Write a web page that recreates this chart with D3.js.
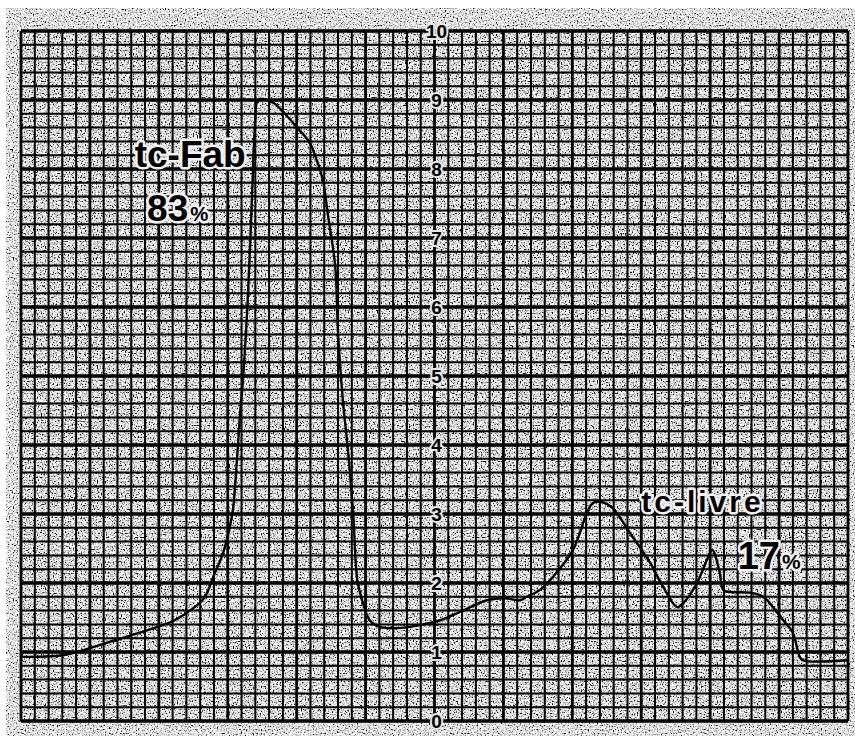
<!DOCTYPE html>
<html>
<head>
<meta charset="utf-8">
<script src="https://cdn.jsdelivr.net/npm/d3@7"></script>
<style>
  body { margin: 0; background: #fff; }
  svg { display: block; }
</style>
</head>
<body>
<div id="chart"></div>
<script>
// trace: x in major divisions, y in chart units
const traceX = [0, 0.64, 1.36, 1.94, 2.23, 2.52, 2.67, 2.79, 2.93, 3.03, 3.08, 3.13, 3.18, 3.22, 3.29, 3.35, 3.40, 3.44,
  3.66, 3.80, 4.00, 4.19, 4.29, 4.38, 4.45, 4.56, 4.60, 4.67, 4.74, 4.82, 4.88, 4.95, 5.06, 5.21, 5.50, 5.79, 6.08, 6.37,
  6.76, 7.02, 7.24, 7.34, 7.53, 7.72, 8.01, 8.21, 8.30, 8.44, 8.58, 8.84, 9.13, 9.32, 9.52, 9.61, 9.81, 9.95, 10.03,
  10.07, 10.14, 10.19, 10.29, 10.58, 10.77, 10.91, 11.06, 11.20, 11.30, 11.35, 12.0]
const traceY = [0.93, 0.96, 1.17, 1.35, 1.46, 1.65, 1.80, 2.09, 2.43, 2.81, 3.10, 3.74, 4.46, 4.94, 6.10, 7.55, 8.71, 9.00,
  8.96, 8.83, 8.61, 8.38, 8.13, 7.84, 7.36, 6.58, 5.62, 4.65, 3.97, 3.01, 2.04, 1.75, 1.46, 1.36, 1.35, 1.39, 1.46, 1.58,
  1.75, 1.78, 1.75, 1.80, 1.90, 2.09, 2.48, 3.01, 3.16, 3.17, 3.09, 2.72, 2.29, 1.94, 1.65, 1.71, 2.00, 2.33, 2.48,
  2.41, 2.14, 1.90, 1.87, 1.86, 1.80, 1.65, 1.46, 1.28, 0.93, 0.88, 0.88]

const yTicks = [0, 1, 2, 3, 4, 5, 6, 7, 8, 9, 10]

// peak annotations, anchored in chart units
const noteText = ['tc-Fab', '83', 'tc-livre', '17']
const noteX = [1.65, 1.83, 9.0, 10.4]
const noteY = [8.03, 7.25, 3.03, 2.2]

const width = 855, height = 736

const x = d3.scaleLinear().domain([0, 12]).range([21, 848])
const y = d3.scaleLinear().domain([0, 10]).range([721, 31])

const svg = d3.select('#chart')
  .append('svg')
  .attr('width', width)
  .attr('height', height)

// scanned paper texture
const defs = svg.append('defs')
const speckle = (id, slope, intercept) => {
  const f = defs.append('filter').attr('id', id)
    .attr('x', 0).attr('y', 0).attr('width', '100%').attr('height', '100%')
  f.append('feTurbulence').attr('type', 'fractalNoise')
    .attr('baseFrequency', 0.75).attr('numOctaves', 1).attr('seed', 4)
  f.append('feColorMatrix').attr('type', 'saturate').attr('values', 0)
  const t = f.append('feComponentTransfer')
  ;['feFuncR', 'feFuncG', 'feFuncB'].forEach(fn =>
    t.append(fn).attr('type', 'linear').attr('slope', slope).attr('intercept', intercept))
  t.append('feFuncA').attr('type', 'table').attr('tableValues', '1 1')
}
speckle('border', 5, -1.7)
speckle('paper', 5.5, -2.0)

svg.append('rect')
  .attr('x', 6).attr('y', 8)
  .attr('width', width - 6).attr('height', height - 8)
  .attr('filter', 'url(#border)')

svg.append('rect')
  .attr('x', x(0)).attr('y', y(10))
  .attr('width', x(12) - x(0)).attr('height', y(0) - y(10))
  .attr('filter', 'url(#paper)')

// grid: 5 minor lines per major division
const minor = d3.range(0, 61).map(i => i / 5)
const minorY = d3.range(0, 51).map(i => i / 5)
const grid = svg.append('g').attr('stroke', '#000')

grid.selectAll('.vx')
  .data(minor)
  .enter()
  .append('line')
  .attr('x1', d => x(d)).attr('x2', d => x(d))
  .attr('y1', y(10)).attr('y2', y(0))
  .attr('stroke-width', (d, i) => i % 5 === 0 ? 2.8 : 2)

grid.selectAll('.hy')
  .data(minorY)
  .enter()
  .append('line')
  .attr('y1', d => y(d)).attr('y2', d => y(d))
  .attr('x1', x(0)).attr('x2', x(12))
  .attr('stroke-width', (d, i) => i % 5 === 0 ? 3.6 : 2)

// trace
const line = d3.line()
  .x(d => x(d[0]))
  .y(d => y(d[1]))
  .curve(d3.curveCatmullRom.alpha(0.5))

svg.append('path')
  .datum(d3.zip(traceX, traceY))
  .attr('d', line)
  .attr('fill', 'none')
  .attr('stroke', '#000')
  .attr('stroke-width', 2.4)
  .attr('stroke-linejoin', 'round')

// scale numbers printed down the middle of the paper
const axis = svg.append('g')
  .attr('transform', `translate(${x(6) + 2},0)`)
  .call(d3.axisLeft(y).tickValues(yTicks).tickSize(0).tickFormat(d3.format('d')))

axis.select('.domain').remove()
axis.selectAll('text')
  .attr('x', 0)
  .attr('dy', '0.35em')
  .attr('text-anchor', 'middle')
  .style('font-family', '"Liberation Sans", Arial, sans-serif')
  .style('font-weight', 'bold')
  .style('font-size', '19px')
  .style('fill', '#000')
  .style('stroke', '#e6e6e6')
  .style('stroke-width', 4)
  .style('stroke-linejoin', 'round')
  .style('paint-order', 'stroke')

// labels
const sizes = [37, 37, 30, 38]
const spacing = [0, 0, 3, 0]
const notes = svg.append('g')
  .style('font-family', '"Liberation Sans", Arial, sans-serif')
  .style('font-weight', 'bold')

noteText.forEach((t, i) => {
  const txt = notes.append('text')
    .attr('x', x(noteX[i]))
    .attr('y', y(noteY[i]))
    .style('font-size', sizes[i] + 'px')
    .style('letter-spacing', spacing[i] + 'px')
    .style('fill', '#000')
    .style('stroke', '#f2f2f2')
    .style('stroke-width', 5)
    .style('stroke-linejoin', 'round')
    .style('paint-order', 'stroke')
    .text(t)
  if (i % 2 === 1) {
    txt.append('tspan').style('font-size', '0.55em').attr('dx', 2).text('%')
  }
})
</script>
</body>
</html>
